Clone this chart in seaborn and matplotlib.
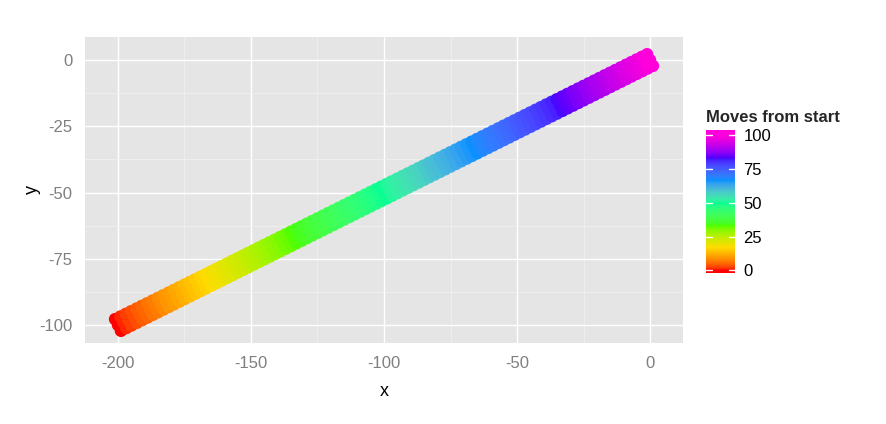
import numpy as np
import pandas as pd
import matplotlib
matplotlib.use("Agg")
import matplotlib.pyplot as plt
from matplotlib.colors import ListedColormap, Normalize, to_rgb
from matplotlib.ticker import MultipleLocator
import seaborn as sns

# ---- data ----
moves = list(range(0, 101))
x_center = [-200, -198, -196, -194, -192, -190, -188, -186, -184, -182,
            -180, -178, -176, -174, -172, -170, -168, -166, -164, -162,
            -160, -158, -156, -154, -152, -150, -148, -146, -144, -142,
            -140, -138, -136, -134, -132, -130, -128, -126, -124, -122,
            -120, -118, -116, -114, -112, -110, -108, -106, -104, -102,
            -100, -98, -96, -94, -92, -90, -88, -86, -84, -82,
            -80, -78, -76, -74, -72, -70, -68, -66, -64, -62,
            -60, -58, -56, -54, -52, -50, -48, -46, -44, -42,
            -40, -38, -36, -34, -32, -30, -28, -26, -24, -22,
            -20, -18, -16, -14, -12, -10, -8, -6, -4, -2, 0]
y_center = [-100, -99, -98, -97, -96, -95, -94, -93, -92, -91,
            -90, -89, -88, -87, -86, -85, -84, -83, -82, -81,
            -80, -79, -78, -77, -76, -75, -74, -73, -72, -71,
            -70, -69, -68, -67, -66, -65, -64, -63, -62, -61,
            -60, -59, -58, -57, -56, -55, -54, -53, -52, -51,
            -50, -49, -48, -47, -46, -45, -44, -43, -42, -41,
            -40, -39, -38, -37, -36, -35, -34, -33, -32, -31,
            -30, -29, -28, -27, -26, -25, -24, -23, -22, -21,
            -20, -19, -18, -17, -16, -15, -14, -13, -12, -11,
            -10, -9, -8, -7, -6, -5, -4, -3, -2, -1, 0]
# spread of the walkers around the centre line
track_dx = [1.1, 0.0, -1.1]
track_dy = [-2.2, 0.0, 2.2]

rainbow7 = ["#FF0000", "#FFDB00", "#49FF00", "#00FF92", "#0092FF", "#4900FF", "#FF00DB"]
legend_ticks = [0, 25, 50, 75, 100]


# ---- colour scale interpolated in Lab space (as ggplot2 does) ----
def srgb_to_lab(rgb):
    rgb = np.asarray(rgb, float)
    lin = np.where(rgb <= 0.04045, rgb / 12.92, ((rgb + 0.055) / 1.055) ** 2.4)
    M = np.array([[0.4124564, 0.3575761, 0.1804375],
                  [0.2126729, 0.7151522, 0.0721750],
                  [0.0193339, 0.1191920, 0.9503041]])
    xyz = lin @ M.T
    xyz = xyz / np.array([0.95047, 1.0, 1.08883])
    f = np.where(xyz > 216 / 24389, np.cbrt(xyz), (24389 / 27 * xyz + 16) / 116)
    L = 116 * f[..., 1] - 16
    a = 500 * (f[..., 0] - f[..., 1])
    b = 200 * (f[..., 1] - f[..., 2])
    return np.stack([L, a, b], -1)


def lab_to_srgb(lab):
    L, a, b = lab[..., 0], lab[..., 1], lab[..., 2]
    fy = (L + 16) / 116
    fx = fy + a / 500
    fz = fy - b / 200
    def finv(t):
        return np.where(t ** 3 > 216 / 24389, t ** 3, (116 * t - 16) / (24389 / 27))
    xyz = np.stack([finv(fx), finv(fy), finv(fz)], -1) * np.array([0.95047, 1.0, 1.08883])
    Minv = np.array([[3.2404542, -1.5371385, -0.4985314],
                     [-0.9692660, 1.8760108, 0.0415560],
                     [0.0556434, -0.2040259, 1.0572252]])
    lin = xyz @ Minv.T
    lin = np.clip(lin, 0, 1)
    rgb = np.where(lin <= 0.0031308, 12.92 * lin, 1.055 * lin ** (1 / 2.4) - 0.055)
    return np.clip(rgb, 0, 1)


stops_lab = srgb_to_lab([to_rgb(c) for c in rainbow7])
pos = np.linspace(0, 1, len(rainbow7))
t = np.linspace(0, 1, 256)
lab_interp = np.stack([np.interp(t, pos, stops_lab[:, k]) for k in range(3)], -1)
cmap = ListedColormap(lab_to_srgb(lab_interp))
norm = Normalize(0, 100)

# ---- build table ----
rows = []
for m, xc, yc in zip(moves, x_center, y_center):
    for dx, dy in zip(track_dx, track_dy):
        rows.append((xc + dx, yc + dy, m))
df = pd.DataFrame(rows, columns=["x", "y", "moves"]).sort_values("moves", kind="stable")

sns.set_style("white")
plt.rcParams["font.family"] = ["Liberation Sans", "DejaVu Sans"]
plt.rcParams["axes.unicode_minus"] = False

fig = plt.figure(figsize=(8.87, 4.24), dpi=100)
ax = fig.add_axes([85 / 887, 1 - 343 / 424, (683 - 85) / 887, (343 - 37) / 424])
ax.set_facecolor("#E5E5E5")

sns.scatterplot(data=df, x="x", y="y", hue="moves", palette=cmap, hue_norm=norm,
                s=80, linewidth=0, legend=False, ax=ax, zorder=3)

ax.set_xlim(-212.4, 12.4)
ax.set_ylim(-106.8, 8.7)
ax.xaxis.set_major_locator(MultipleLocator(50))
ax.xaxis.set_minor_locator(MultipleLocator(25))
ax.yaxis.set_major_locator(MultipleLocator(25))
ax.yaxis.set_minor_locator(MultipleLocator(12.5))
ax.grid(which="major", color="white", linewidth=1.0, zorder=1)
ax.grid(which="minor", color="#F2F2F2", linewidth=0.5, zorder=1)
ax.set_axisbelow(True)
for sp in ax.spines.values():
    sp.set_visible(False)
ax.tick_params(which="major", length=5, width=0.8, color="#7F7F7F",
               labelcolor="#7F7F7F", labelsize=12, pad=4)
ax.tick_params(which="minor", length=0)
ax.set_xlabel("x", fontsize=13, color="black", labelpad=9)
ax.set_ylabel("y", fontsize=13, color="black", labelpad=-1)

# colour bar legend (bar extends slightly past the 0..100 range, like ggplot)
cax = fig.add_axes([706 / 887, 1 - 273 / 424, 29 / 887, 143 / 424])
lo, hi = -2.0, 104.0
grad = np.linspace(lo, hi, 400)[:, None]
cax.imshow(grad, cmap=cmap, norm=Normalize(0, 100), aspect="auto", origin="lower",
           extent=(0, 1, lo, hi))
cax.set_xlim(0, 1)
cax.set_ylim(lo, hi)
cax.set_xticks([])
cax.yaxis.tick_right()
cax.set_yticks(legend_ticks)
cax.set_yticklabels([str(v) for v in legend_ticks])
for sp in cax.spines.values():
    sp.set_visible(False)
cax.tick_params(length=0, labelsize=12, labelcolor="black", pad=6)
for tk in legend_ticks:
    cax.plot([0, 0.2], [tk, tk], color="white", lw=1)
    cax.plot([0.8, 1.0], [tk, tk], color="white", lw=1)
fig.text(706 / 887, 1 - 117 / 424, "Moves from start", fontsize=12, fontweight="bold",
         va="center", ha="left")

fig.savefig("out.png", dpi=100, facecolor="white")
